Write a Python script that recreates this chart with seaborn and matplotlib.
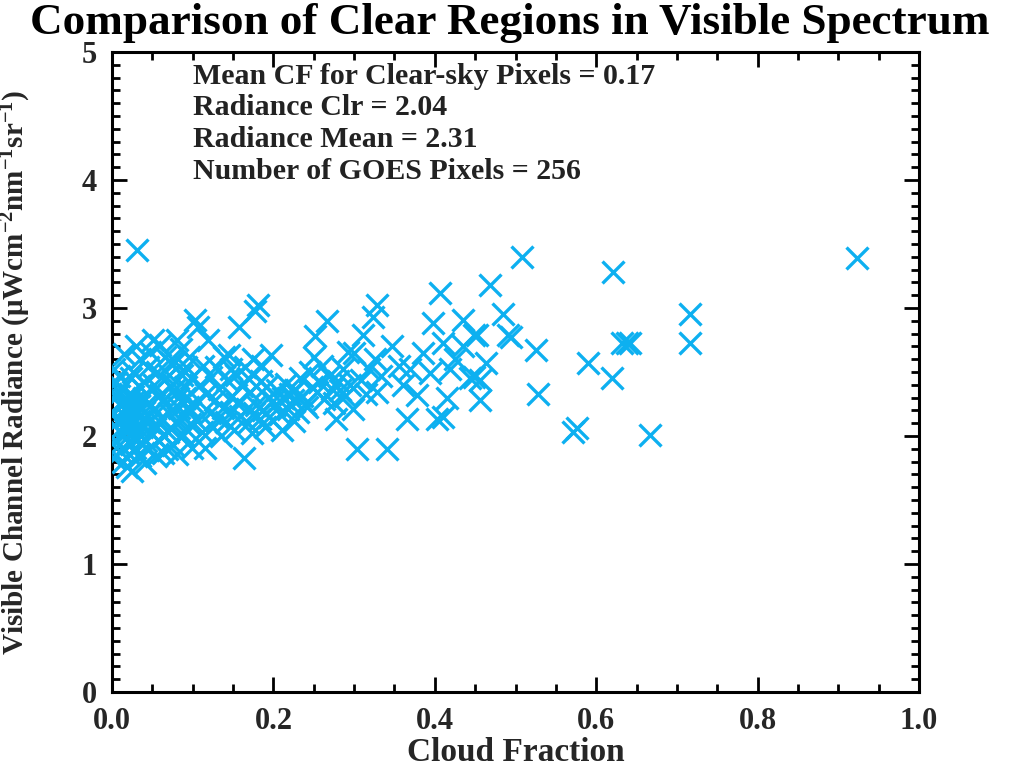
import matplotlib
matplotlib.use("Agg")
import matplotlib.pyplot as plt
from matplotlib.ticker import MultipleLocator
import numpy as np
import pandas as pd
import seaborn as sns

# Cloud fraction / visible radiance pairs, grouped by cloud-fraction range
cf_a = [0.003, 0.006, 0.002, 0.008, 0.004, 0.010, 0.005, 0.012, 0.007, 0.014, 0.009, 0.011, 0.016, 0.013, 0.018, 0.015,
        0.020, 0.017, 0.022, 0.019, 0.024, 0.021, 0.026, 0.023, 0.028, 0.025, 0.030, 0.027, 0.032, 0.029, 0.034, 0.031,
        0.036, 0.033, 0.038, 0.035, 0.040, 0.037, 0.042, 0.039, 0.044, 0.041, 0.046, 0.043, 0.048, 0.045, 0.003, 0.008,
        0.018, 0.020, 0.022, 0.024, 0.026, 0.028, 0.030, 0.032, 0.047, 0.015, 0.035, 0.009, 0.026, 0.040]
rad_a = [2.52, 2.31, 2.18, 2.05, 1.97, 1.88, 2.42, 2.26, 2.12, 2.01, 1.93, 2.37, 2.20, 1.80, 2.08, 2.29,
         1.95, 2.15, 2.33, 2.03, 2.22, 1.86, 2.10, 2.45, 1.99, 1.73, 2.17, 2.27, 2.06, 1.91, 2.24, 3.45,
         2.00, 2.39, 2.13, 1.84, 2.30, 2.07, 1.96, 2.19, 2.54, 1.79, 2.11, 2.25, 2.02, 1.89, 1.83, 2.35,
         1.76, 2.24, 2.07, 1.94, 2.31, 2.19, 2.70, 1.85, 2.66, 2.64, 2.60, 2.47, 2.50, 2.42]

cf_b = [0.051, 0.053, 0.055, 0.057, 0.059, 0.061, 0.063, 0.065, 0.067, 0.069, 0.071, 0.073, 0.075, 0.077, 0.079, 0.081,
        0.083, 0.085, 0.087, 0.089, 0.091, 0.093, 0.095, 0.097, 0.099, 0.052, 0.054, 0.056, 0.058, 0.062, 0.066, 0.068,
        0.072, 0.076, 0.080, 0.082, 0.084, 0.086, 0.088, 0.090, 0.092, 0.094, 0.096, 0.098, 0.060, 0.070, 0.078, 0.064]
rad_b = [2.75, 2.21, 2.08, 1.97, 2.32, 2.14, 1.87, 2.44, 2.26, 2.03, 2.18, 2.57, 1.93, 2.36, 2.10, 2.75,
         2.22, 1.99, 2.48, 2.15, 2.30, 2.05, 2.62, 2.19, 1.91, 2.40, 1.84, 2.50, 2.12, 2.27, 2.62, 1.90,
         2.06, 2.41, 1.86, 2.30, 2.13, 2.68, 2.01, 2.38, 2.54, 2.23, 2.09, 2.45, 2.71, 2.48, 2.58, 2.00]

cf_c = [0.101, 0.103, 0.105, 0.107, 0.109, 0.111, 0.113, 0.115, 0.117, 0.119, 0.121, 0.123, 0.125, 0.127, 0.129, 0.131,
        0.133, 0.135, 0.137, 0.139, 0.141, 0.143, 0.145, 0.147, 0.149, 0.151, 0.153, 0.155, 0.157, 0.159, 0.161, 0.163,
        0.165, 0.167, 0.169, 0.171, 0.173, 0.175, 0.177, 0.179, 0.181, 0.183, 0.185, 0.187, 0.189, 0.191, 0.193, 0.195,
        0.197, 0.199, 0.148, 0.168, 0.176, 0.186]
rad_c = [2.25, 2.91, 2.12, 2.85, 2.40, 2.03, 2.55, 1.91, 2.33, 2.75, 2.18, 2.46, 2.07, 2.28, 2.54, 2.14,
         2.37, 2.00, 2.22, 2.62, 2.11, 2.44, 2.63, 2.19, 2.31, 2.05, 2.48, 2.26, 2.85, 2.16, 2.39, 1.83,
         2.54, 2.21, 2.10, 2.34, 2.02, 2.60, 2.98, 2.24, 3.02, 2.13, 2.43, 2.20, 2.07, 2.38, 2.30, 2.15,
         2.63, 2.27, 2.52, 2.45, 2.18, 2.55]

cf_d = [0.202, 0.205, 0.208, 0.212, 0.215, 0.218, 0.221, 0.224, 0.227, 0.230, 0.233, 0.236, 0.239, 0.242, 0.245, 0.248,
        0.250, 0.252, 0.254, 0.257, 0.260, 0.263, 0.266, 0.269, 0.272, 0.275, 0.278, 0.280, 0.283, 0.286, 0.289, 0.292,
        0.295, 0.298, 0.210, 0.226]
rad_d = [2.24, 2.36, 2.17, 2.30, 2.41, 2.21, 2.33, 2.28, 2.36, 2.19, 2.45, 2.31, 2.25, 2.23, 2.50, 2.38,
         2.62, 2.78, 2.34, 2.42, 2.55, 2.29, 2.90, 2.47, 2.37, 2.26, 2.13, 2.43, 2.36, 2.52, 2.31, 2.66,
         2.40, 2.21, 2.05, 2.12]

cf_e = [0.300, 0.304, 0.308, 0.311, 0.315, 0.318, 0.323, 0.326, 0.328, 0.328, 0.333, 0.341, 0.347, 0.355, 0.360, 0.366,
        0.369, 0.378, 0.385, 0.394, 0.398, 0.403, 0.406, 0.410, 0.410, 0.415, 0.419, 0.425, 0.435, 0.435, 0.443]
rad_e = [2.65, 1.90, 2.44, 2.79, 2.33, 2.52, 2.93, 2.60, 3.02, 2.34, 2.47, 1.90, 2.70, 2.55, 2.40, 2.13,
         2.52, 2.32, 2.65, 2.49, 2.88, 2.13, 3.12, 2.15, 2.73, 2.30, 2.52, 2.60, 2.91, 2.70, 2.45]

cf_f = [0.448, 0.448, 0.452, 0.456, 0.456, 0.464, 0.468, 0.485, 0.491, 0.495, 0.508, 0.526, 0.528, 0.571, 0.576, 0.590,
        0.620, 0.621, 0.632, 0.638, 0.642, 0.667, 0.716, 0.716, 0.923]
rad_f = [2.79, 2.46, 2.79, 2.28, 2.44, 2.57, 3.18, 2.95, 2.79, 2.77, 3.40, 2.67, 2.33, 2.03, 2.06, 2.57,
         2.45, 3.28, 2.73, 2.73, 2.73, 2.01, 2.95, 2.73, 3.39]

stat_lines = [
    "Mean CF for Clear-sky Pixels = 0.17",
    "Radiance Clr = 2.04",
    "Radiance Mean = 2.31",
    "Number of GOES Pixels = 256",
]

df = pd.DataFrame({
    "cloud_fraction": cf_a + cf_b + cf_c + cf_d + cf_e + cf_f,
    "radiance": rad_a + rad_b + rad_c + rad_d + rad_e + rad_f,
})

sns.set_style("ticks")
plt.rcParams["font.family"] = ["Liberation Serif", "DejaVu Serif"]
plt.rcParams["font.weight"] = "bold"
plt.rcParams["mathtext.fontset"] = "custom"
plt.rcParams["mathtext.rm"] = "Liberation Serif:bold"
plt.rcParams["mathtext.it"] = "Liberation Serif:bold"
plt.rcParams["mathtext.bf"] = "Liberation Serif:bold"

fig = plt.figure(figsize=(10.14, 7.66), dpi=100)
ax = fig.add_axes([0.1105, 0.0966, 0.7958, 0.8355])

sns.scatterplot(data=df, x="cloud_fraction", y="radiance", marker="x", s=250,
                color="#0db0f0", linewidth=2.4, ax=ax, legend=False, zorder=3)

ax.set_xlim(0, 1)
ax.set_ylim(0, 5)
ax.xaxis.set_major_locator(MultipleLocator(0.2))
ax.xaxis.set_minor_locator(MultipleLocator(0.05))
ax.yaxis.set_major_locator(MultipleLocator(1))
ax.yaxis.set_minor_locator(MultipleLocator(0.1))
ax.tick_params(which="both", direction="in", top=True, right=True, width=2, color="black")
ax.tick_params(which="major", length=11, labelsize=22, pad=11)
ax.tick_params(which="minor", length=6)
for lab in ax.get_xticklabels() + ax.get_yticklabels():
    lab.set_fontweight("bold")
for sp in ax.spines.values():
    sp.set_linewidth(2.2)
    sp.set_color("black")

ax.set_xlabel("Cloud Fraction", fontsize=24, fontweight="bold")
ax.xaxis.set_label_coords(0.5, -0.07)
ax.set_ylabel("Visible Channel Radiance (μWcm$^{-2}$nm$^{-1}$sr$^{-1}$)", fontsize=21, fontweight="bold")
ax.yaxis.set_label_coords(-0.098, 0.5)

ys = [0.962, 0.914, 0.863, 0.813]
for line, yy in zip(stat_lines, ys):
    ax.text(0.1, yy, line, transform=ax.transAxes, fontsize=21.5, fontweight="bold",
            color="#222222", va="center", ha="left")

fig.text(0.503, 0.996, "Comparison of Clear Regions in Visible Spectrum", ha="center", va="top",
         fontsize=32.5, fontweight="bold", color="black")

fig.savefig("out.png", dpi=100, facecolor="white")
